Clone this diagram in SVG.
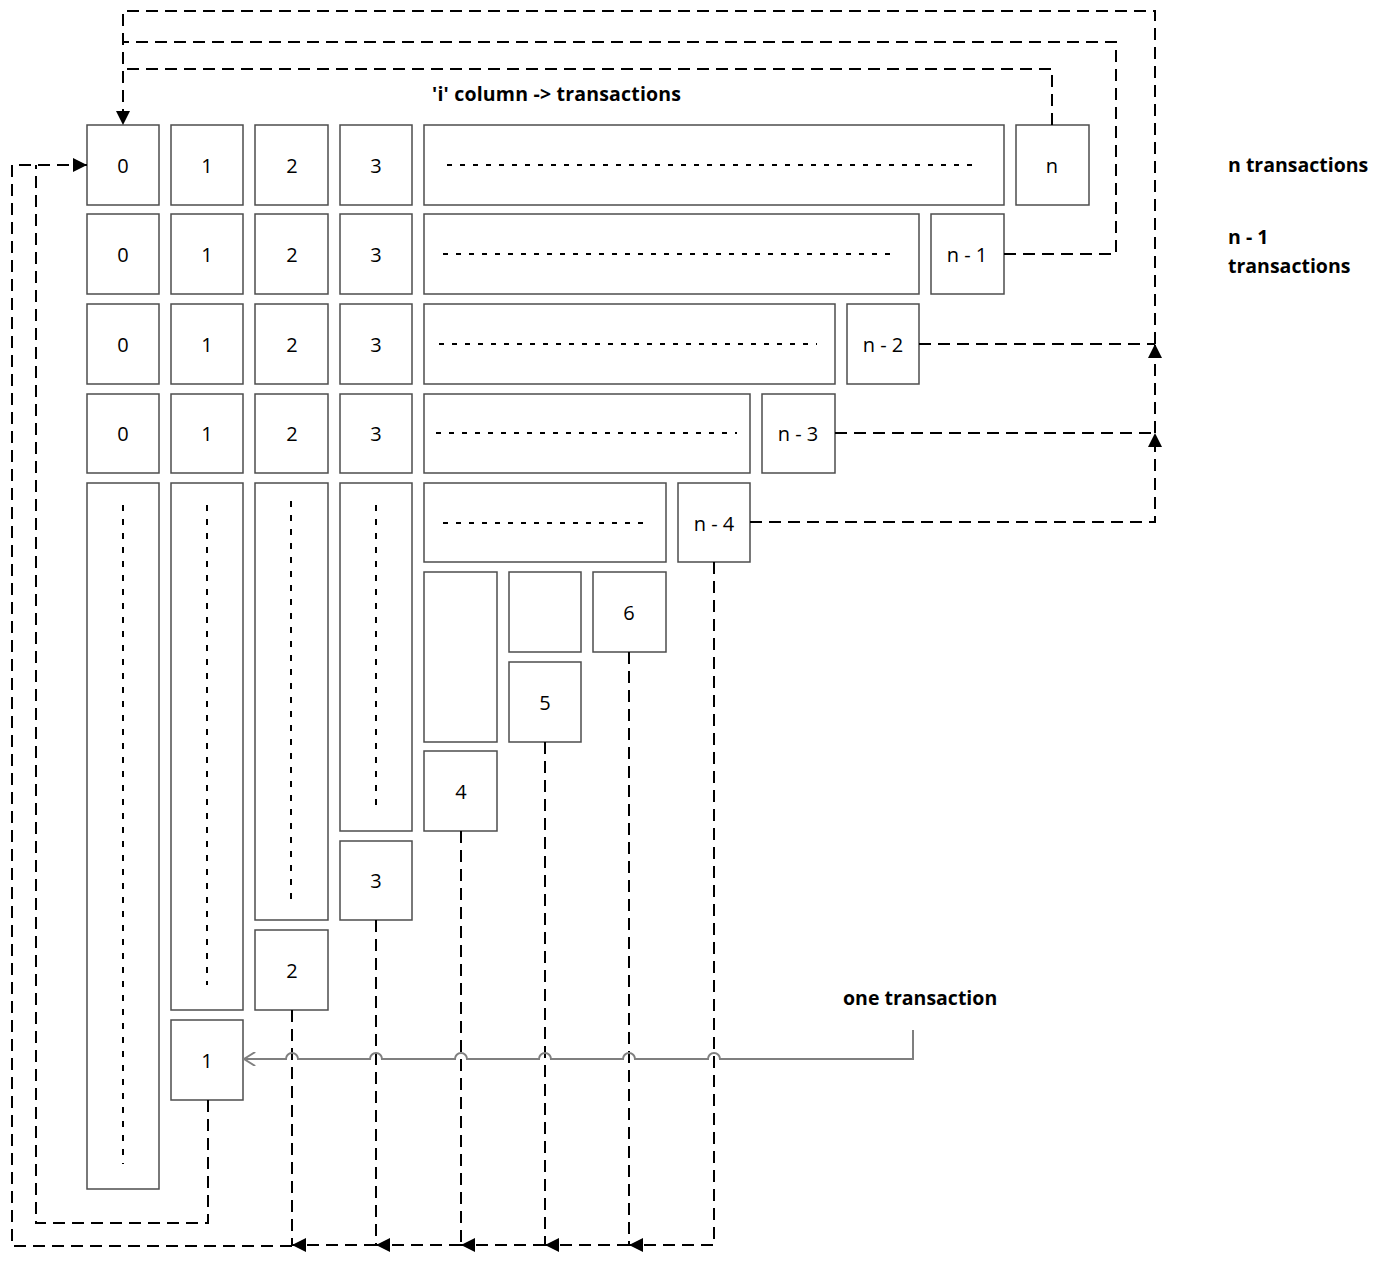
<svg xmlns="http://www.w3.org/2000/svg" width="1391" height="1264" viewBox="0 0 1391 1264">
  <style>
    .box { fill: #ffffff; stroke: #4d4d4d; stroke-width: 1.5; }
    .num { font-family: "Open Sans", "Liberation Sans", sans-serif; font-size: 20px; fill: #000; text-anchor: middle; dominant-baseline: central; }
    .lbl { font-family: "Open Sans", "Liberation Sans", sans-serif; font-size: 19.5px; font-weight: bold; fill: #000; }
    .fill { fill: none; stroke: #000; stroke-width: 1.8; stroke-dasharray: 5 8; }
    .vfill { fill: none; stroke: #000; stroke-width: 2; stroke-dasharray: 6 8; }
    .flow { fill: none; stroke: #000; stroke-width: 2; stroke-dasharray: 12 7; }
    .gray { fill: none; stroke: #7f7f7f; stroke-width: 2; }
  </style>
  <defs>
    <marker id="tri2" viewBox="0 0 10 10" refX="10" refY="5" markerWidth="14" markerHeight="14" markerUnits="userSpaceOnUse" orient="auto">
      <path d="M0,0 L10,5 L0,10 z" fill="#000"/>
    </marker>
    <marker id="open" viewBox="0 0 10 10" refX="9" refY="5" markerWidth="14" markerHeight="14" markerUnits="userSpaceOnUse" orient="auto">
      <path d="M1,0 L9,5 L1,10" fill="none" stroke="#7f7f7f" stroke-width="1.4"/>
    </marker>
  </defs>

  <!-- row 0 -->
  <g id="r0c0"><rect class="box" x="87" y="125" width="72" height="80"/><text class="num" x="123" y="165">0</text></g>
  <g id="r0c1"><rect class="box" x="171" y="125" width="72" height="80"/><text class="num" x="207" y="165">1</text></g>
  <g id="r0c2"><rect class="box" x="255" y="125" width="73" height="80"/><text class="num" x="292" y="165">2</text></g>
  <g id="r0c3"><rect class="box" x="340" y="125" width="72" height="80"/><text class="num" x="376" y="165">3</text></g>
  <g id="r0mid"><rect class="box" x="424" y="125" width="580" height="80"/><line class="fill" x1="447" y1="165" x2="980" y2="165"/></g>
  <g id="r0end"><rect class="box" x="1016" y="125" width="73" height="80"/><text class="num" x="1052" y="165">n</text></g>

  <!-- row 1 -->
  <g id="r1c0"><rect class="box" x="87" y="214" width="72" height="80"/><text class="num" x="123" y="254">0</text></g>
  <g id="r1c1"><rect class="box" x="171" y="214" width="72" height="80"/><text class="num" x="207" y="254">1</text></g>
  <g id="r1c2"><rect class="box" x="255" y="214" width="73" height="80"/><text class="num" x="292" y="254">2</text></g>
  <g id="r1c3"><rect class="box" x="340" y="214" width="72" height="80"/><text class="num" x="376" y="254">3</text></g>
  <g id="r1mid"><rect class="box" x="424" y="214" width="495" height="80"/><line class="fill" x1="443" y1="254" x2="897" y2="254"/></g>
  <g id="r1end"><rect class="box" x="931" y="214" width="73" height="80"/><text class="num" x="967" y="254">n - 1</text></g>

  <!-- row 2 -->
  <g id="r2c0"><rect class="box" x="87" y="304" width="72" height="80"/><text class="num" x="123" y="344">0</text></g>
  <g id="r2c1"><rect class="box" x="171" y="304" width="72" height="80"/><text class="num" x="207" y="344">1</text></g>
  <g id="r2c2"><rect class="box" x="255" y="304" width="73" height="80"/><text class="num" x="292" y="344">2</text></g>
  <g id="r2c3"><rect class="box" x="340" y="304" width="72" height="80"/><text class="num" x="376" y="344">3</text></g>
  <g id="r2mid"><rect class="box" x="424" y="304" width="411" height="80"/><line class="fill" x1="439" y1="344" x2="817" y2="344"/></g>
  <g id="r2end"><rect class="box" x="847" y="304" width="72" height="80"/><text class="num" x="883" y="344">n - 2</text></g>

  <!-- row 3 -->
  <g id="r3c0"><rect class="box" x="87" y="394" width="72" height="79"/><text class="num" x="123" y="433">0</text></g>
  <g id="r3c1"><rect class="box" x="171" y="394" width="72" height="79"/><text class="num" x="207" y="433">1</text></g>
  <g id="r3c2"><rect class="box" x="255" y="394" width="73" height="79"/><text class="num" x="292" y="433">2</text></g>
  <g id="r3c3"><rect class="box" x="340" y="394" width="72" height="79"/><text class="num" x="376" y="433">3</text></g>
  <g id="r3mid"><rect class="box" x="424" y="394" width="326" height="79"/><line class="fill" x1="436" y1="433" x2="737" y2="433"/></g>
  <g id="r3end"><rect class="box" x="762" y="394" width="73" height="79"/><text class="num" x="798" y="433">n - 3</text></g>

  <!-- long columns -->
  <g id="col0"><rect class="box" x="87" y="483" width="72" height="706"/><line class="vfill" x1="123" y1="505" x2="123" y2="1164"/></g>
  <g id="col1"><rect class="box" x="171" y="483" width="72" height="527"/><line class="vfill" x1="207" y1="505" x2="207" y2="985"/></g>
  <g id="col2"><rect class="box" x="255" y="483" width="73" height="437"/><line class="vfill" x1="291" y1="501" x2="291" y2="902"/></g>
  <g id="col3"><rect class="box" x="340" y="483" width="72" height="348"/><line class="vfill" x1="376" y1="505" x2="376" y2="805"/></g>

  <!-- row 4 -->
  <g id="r4mid"><rect class="box" x="424" y="483" width="242" height="79"/><line class="fill" x1="443" y1="523" x2="644" y2="523"/></g>
  <g id="r4end"><rect class="box" x="678" y="483" width="72" height="79"/><text class="num" x="714" y="523">n - 4</text></g>

  <!-- staircase -->
  <g id="s4col"><rect class="box" x="424" y="572" width="73" height="170"/></g>
  <g id="s5col"><rect class="box" x="509" y="572" width="72" height="80"/></g>
  <g id="s6"><rect class="box" x="593" y="572" width="73" height="80"/><text class="num" x="629" y="612">6</text></g>
  <g id="s5"><rect class="box" x="509" y="662" width="72" height="80"/><text class="num" x="545" y="702">5</text></g>
  <g id="s4"><rect class="box" x="424" y="751" width="73" height="80"/><text class="num" x="461" y="791">4</text></g>
  <g id="s3"><rect class="box" x="340" y="841" width="72" height="79"/><text class="num" x="376" y="880">3</text></g>
  <g id="s2"><rect class="box" x="255" y="930" width="73" height="80"/><text class="num" x="292" y="970">2</text></g>
  <g id="s1"><rect class="box" x="171" y="1020" width="72" height="80"/><text class="num" x="207" y="1060">1</text></g>

  <!-- labels -->
  <text class="lbl" x="432" y="101" textLength="249" lengthAdjust="spacing">'i' column -&gt; transactions</text>
  <text class="lbl" x="1228" y="172">n transactions</text>
  <text class="lbl" x="1228" y="244">n - 1</text>
  <text class="lbl" x="1228" y="273">transactions</text>
  <text class="lbl" x="843" y="1005">one transaction</text>

  <g id="connectors">
    <!-- back to the first cell of row 0 from the top -->
    <path class="flow" d="M1052,125 V69 H123"/>
    <path class="flow" d="M1004,254 H1116 V42 H123"/>
    <path class="flow" d="M919,344 H1155"/>
    <path class="flow" d="M835,433 H1155"/>
    <path class="flow" d="M750,522 H1155 V433" marker-end="url(#tri2)"/>
    <path class="flow" d="M1155,433 V344" marker-end="url(#tri2)"/>
    <path class="flow" d="M1155,344 V11 H123 V125" marker-end="url(#tri2)"/>

    <!-- back to the first cell of row 0 from the left -->
    <path class="flow" d="M208,1100 V1223 H36 V165"/>
    <path class="flow" d="M292,1010 V1245"/>
    <path class="flow" d="M376,920 V1245"/>
    <path class="flow" d="M461,831 V1245"/>
    <path class="flow" d="M545,742 V1245"/>
    <path class="flow" d="M629,652 V1245"/>
    <path class="flow" d="M714,562 V1245 H629" marker-end="url(#tri2)"/>
    <path class="flow" d="M629,1245 H545" marker-end="url(#tri2)"/>
    <path class="flow" d="M545,1245 H461" marker-end="url(#tri2)"/>
    <path class="flow" d="M461,1245 H376" marker-end="url(#tri2)"/>
    <path class="flow" d="M376,1245 H292" marker-end="url(#tri2)"/>
    <path class="flow" d="M292,1246 H12 V165 H87" marker-end="url(#tri2)"/>

    <!-- one transaction pointer, hopping over the dashed lines -->
    <path class="gray" d="M913,1030 V1059 H720 a6,6 0 0 0 -12,0 H635 a6,6 0 0 0 -12,0 H551 a6,6 0 0 0 -12,0 H467 a6,6 0 0 0 -12,0 H382 a6,6 0 0 0 -12,0 H298 a6,6 0 0 0 -12,0 H244" marker-end="url(#open)"/>
  </g>
</svg>
